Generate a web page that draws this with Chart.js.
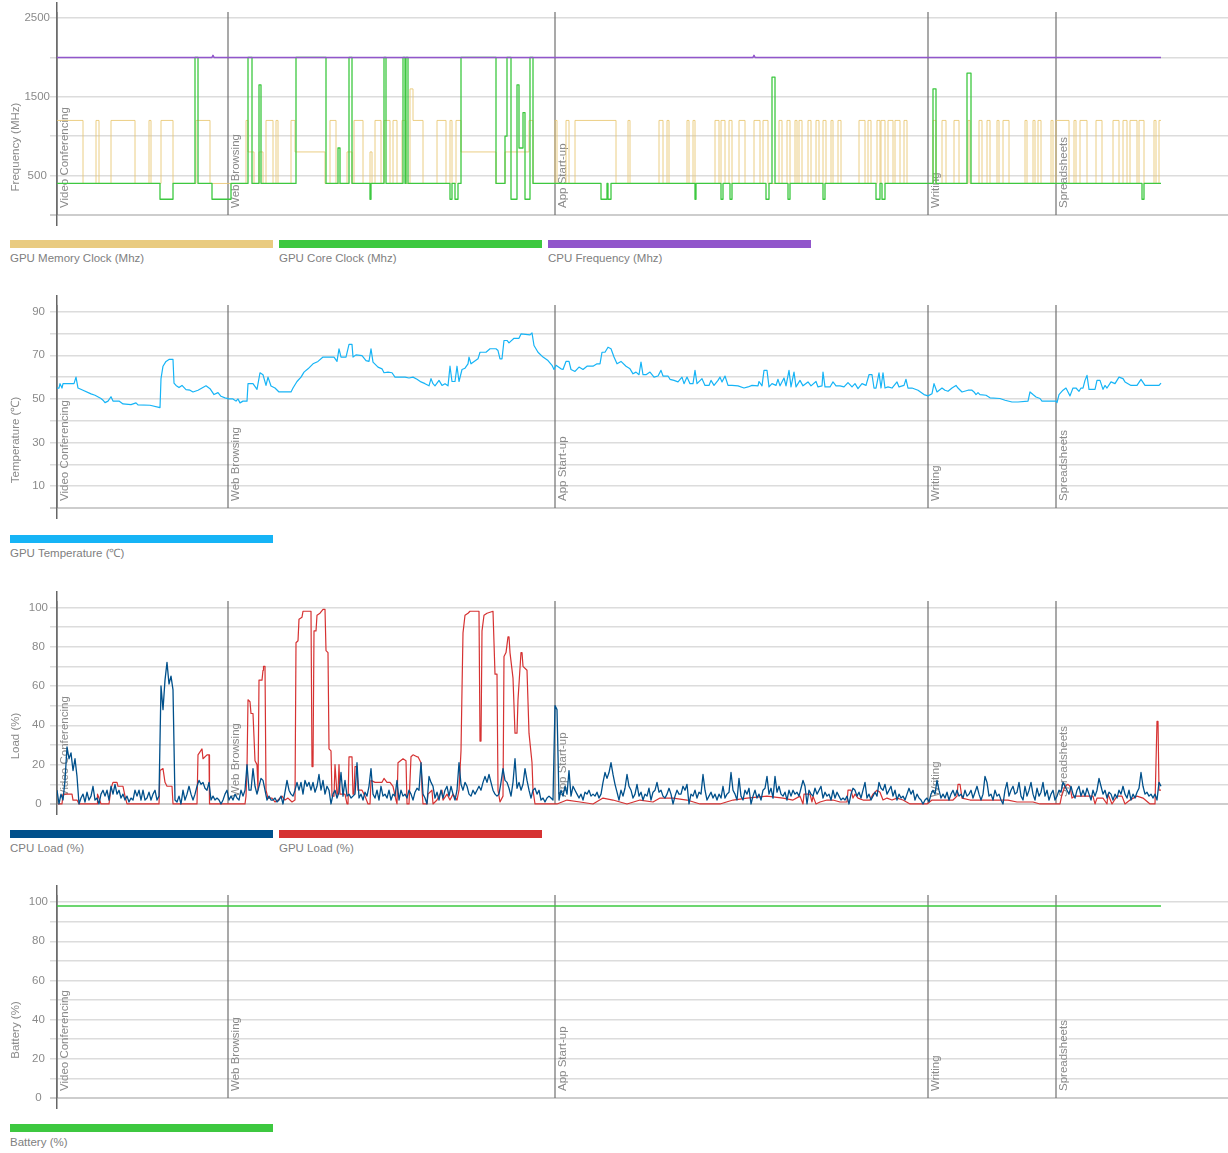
<!DOCTYPE html>
<html>
<head>
<meta charset="utf-8">
<script src="https://cdn.jsdelivr.net/npm/chart.js@4.4.0/dist/chart.umd.min.js"></script>
<style>
body { margin: 0; background: #fff; font-family: "Liberation Sans", Arial, sans-serif; }
#page { position: relative; width: 1228px; height: 1153px; overflow: hidden; }
canvas { position: absolute; left: 0; }
.legend { position: absolute; left: 10px; display: flex; }
.item { width: 263px; margin-right: 6px; }
.bar { height: 8px; }
.label { font-size: 11.5px; color: #808080; margin-top: 3px; line-height: 14px; white-space: nowrap; }
</style>
</head>
<body>
<div id="page">
  <canvas id="freq" width="1228" height="227" style="top:0px"></canvas>
  <canvas id="temp" width="1228" height="227" style="top:293px"></canvas>
  <canvas id="load" width="1228" height="227" style="top:589px"></canvas>
  <canvas id="batt" width="1228" height="227" style="top:883px"></canvas>
</div>
<script>
const FONT = '"Liberation Sans", Arial, sans-serif'

// test phases (x = seconds from start)
const eventTimes = [0, 171, 498, 871, 999]
const eventNames = ['Video Conferencing', 'Web Browsing', 'App Start-up', 'Writing', 'Spreadsheets']
const xMax = 1171

// y ticks of each chart
const freqTicks = [0, 500, 1000, 1500, 2000, 2500]
const tempTicks = [0, 10, 20, 30, 40, 50, 60, 70, 80, 90]
const pctTicks = [0, 10, 20, 30, 40, 50, 60, 70, 80, 90, 100]

// frequency chart: change points [t, MHz]
const gpuMemClock = [
  [0,1200],[26,400],[39,1200],[42,400],[54,1200],[78,400],[92,1200],[94,400],[104,1200],[116,400],
  [139,1200],[153,400],[189,1200],[191,800],[197,400],[202,800],[206,400],[209,1200],[216,400],[219,1200],
  [221,400],[234,1200],[238,800],[268,400],[273,1200],[279,400],[290,800],[295,400],[297,1200],[306,400],
  [313,800],[315,400],[318,1200],[324,400],[327,1200],[333,400],[336,1200],[340,400],[345,1200],[349,400],
  [353,1600],[356,1200],[366,400],[380,1200],[389,400],[393,1200],[395,400],[399,1200],[404,800],[439,400],
  [448,800],[472,1200],[476,400],[498,1200],[500,400],[509,1200],[512,400],[518,1200],[559,400],[571,1200],
  [573,400],[602,1200],[606,400],[610,1200],[612,400],[630,1200],[632,400],[636,1200],[638,400],[658,1200],
  [662,400],[664,1200],[668,400],[672,1200],[675,400],[682,1200],[688,400],[697,1200],[703,400],[706,1200],
  [711,400],[722,1200],[725,400],[730,1200],[733,400],[738,1200],[740,400],[742,1200],[745,400],[751,1200],
  [754,400],[759,1200],[762,400],[766,1200],[769,400],[774,1200],[776,400],[781,1200],[784,400],[802,1200],
  [808,400],[811,1200],[814,400],[820,1200],[823,400],[824,1200],[828,400],[831,1200],[836,400],[838,1200],
  [843,400],[847,1200],[850,400],[876,1200],[879,400],[885,1200],[889,400],[897,1200],[902,400],[911,1200],
  [913,400],[922,1200],[925,400],[930,1200],[933,400],[940,1200],[942,400],[946,1200],[952,400],[968,1200],
  [970,400],[976,1200],[978,400],[981,1200],[984,400],[994,1200],[996,400],[999,1200],[1012,400],[1017,1200],
  [1019,400],[1023,1200],[1030,400],[1039,1200],[1045,400],[1056,1200],[1062,400],[1066,1200],[1070,400],[1073,1200],
  [1080,400],[1082,1200],[1087,400],[1097,1200],[1099,400],[1102,1200],[1104,1200]
]
const gpuCoreClock = [
  [0,400],[103,200],[116,400],[138,2000],[141,400],[155,200],[174,400],[191,2000],[195,400],[202,1650],
  [204,400],[239,2000],[269,400],[281,850],[283,400],[292,2000],[295,400],[313,200],[314,400],[327,2000],
  [329,400],[346,2000],[348,400],[349,2000],[351,400],[393,200],[395,400],[398,200],[401,400],[404,2000],
  [439,400],[448,1000],[450,2000],[454,200],[460,1650],[462,850],[466,1300],[468,200],[473,2000],[476,400],
  [544,200],[550,400],[551,200],[554,400],[638,200],[639,400],[664,200],[666,400],[673,200],[675,400],
  [709,200],[712,400],[715,1750],[718,400],[731,200],[733,400],[766,200],[768,400],[819,200],[823,400],
  [825,200],[828,400],[876,1600],[879,400],[910,1800],[914,400],[1085,200],[1087,400],[1104,400]
]
const cpuFrequency = [[0,2000],[155,2000],[156,2025],[157,2000],[696,2000],[697,2025],[698,2000],[1104,2000]]

// temperature chart [t, °C]
const gpuTemp = [
  [0,55],[2,55],[3,57],[5,55],[6,57],[17,57],[19,60],[21,55],[26,54],[34,52.3],[38,51.7],[44,50.2],[46,49.4],
  [48,48.3],[51,49],[54,51],[56,49],[62,49],[66,47.7],[74,47.4],[79,48.2],[81,47.3],[93,47.1],[103,46],
  [104,59.3],[106,65],[109,67.2],[112,68.1],[116,68.1],[117,57.3],[119,56.2],[122,55.2],[125,56.2],[129,54.3],
  [133,54],[136,53.2],[141,54],[145,55],[149,56],[153,54.7],[157,52],[161,52.9],[164,51.2],[168,50.5],[172,50],
  [176,50],[179,49],[181,50],[183,48.2],[186,49],[190,49],[191,57],[196,57],[200,54.4],[203,62],[206,61.1],
  [209,56.2],[211,60],[214,55.9],[218,55],[222,53.2],[234,53.2],[236,55],[240,58],[244,60],[247,62.3],
  [251,63.8],[256,66.1],[261,67.2],[266,69.2],[277,69.2],[280,67.2],[282,73],[284,69.2],[289,69.2],[292,75],
  [295,75],[296,69.2],[299,70.2],[305,69.9],[309,67.6],[312,67.2],[314,73],[316,66.9],[321,64.6],[325,63.8],
  [327,62],[331,62.3],[335,62],[338,60],[348,60],[352,59.6],[356,60],[360,59],[364,57.8],[368,57],[372,56],
  [374,59.3],[376,57],[378,56],[382,58.5],[385,56.2],[388,57],[391,56],[393,65],[395,58],[398,58],[400,65],
  [402,58],[405,63.5],[408,64.1],[411,66.1],[412,69.2],[414,66.1],[421,68.4],[423,71.4],[429,71.4],[433,73],
  [439,73],[441,72.2],[443,68.4],[445,68.4],[447,76.8],[450,76.8],[452,75.7],[457,77.8],[462,77.8],[464,79.8],
  [473,79.4],[475,80.3],[477,74.5],[481,71.4],[486,69.2],[491,67.6],[495,65.4],[497,63.5],[499,65.4],[504,63.8],
  [506,63.5],[509,67.2],[512,67.2],[514,63.5],[518,62.6],[522,64.6],[526,63.5],[530,65],[536,65],[540,66.1],
  [543,66.1],[545,71.4],[548,71.4],[551,73.7],[554,73],[557,69.2],[560,66.1],[564,67.2],[569,65],[573,63.8],
  [576,61.5],[579,62.3],[582,61.1],[584,66.9],[586,61.1],[589,61.1],[593,62.3],[597,60],[601,60.5],[604,63.1],
  [606,60.5],[611,60.5],[613,59],[617,58.5],[621,57.8],[625,60],[627,57],[630,60],[633,57],[636,57],[638,63.1],
  [640,57],[645,59.3],[648,56.2],[652,56.2],[654,58.5],[657,56.2],[661,58.5],[663,60],[665,57.8],[668,60.5],
  [671,56.2],[675,56.2],[681,56],[687,55],[691,55.5],[695,56.2],[701,56],[702,58],[705,56],[707,63.1],[710,63.1],
  [712,55.5],[715,57],[719,56.2],[721,59],[723,56],[727,59.6],[729,56],[732,63.1],[734,55.5],[737,62.3],
  [739,55.5],[743,58.5],[746,56],[751,57.8],[754,56],[759,58],[761,55.5],[765,56],[766,62.3],[768,55.5],
  [773,55.5],[776,57.8],[779,56],[783,56],[787,55.5],[791,57.5],[795,55.5],[798,57],[801,54.7],[805,57],
  [809,56.2],[812,61.1],[815,61.1],[817,55],[819,55],[822,62],[824,55],[826,62],[828,55],[831,55.5],[835,55],
  [840,57.8],[842,55.5],[847,56.2],[849,59],[851,55],[855,55],[861,54],[867,52],[871,51.4],[875,52.4],[877,57],
  [880,53.2],[885,55],[888,54],[891,53.5],[895,55],[899,56.2],[901,55],[905,53.2],[911,54],[915,54],[917,53.2],
  [919,52],[921,52.9],[923,52],[929,51.7],[933,50.5],[943,50.2],[948,49.4],[955,48.6],[961,48.6],[971,49],
  [973,53.2],[976,52],[979,50.9],[983,50.2],[985,49],[991,49],[999,49],[1000,48.3],[1002,52],[1006,54],
  [1009,55],[1011,53.2],[1013,51.4],[1016,55],[1019,55],[1022,53.5],[1024,55],[1026,55],[1028,58.5],[1030,60.8],
  [1032,54.4],[1038,54.4],[1040,58.5],[1043,58.5],[1046,54.4],[1048,56.2],[1050,55],[1054,57.8],[1058,57],
  [1062,60],[1066,59.3],[1068,57.8],[1074,56.2],[1080,56.2],[1084,59],[1088,56.2],[1094,56.2],[1102,56.2],[1104,57.3]
]

// load chart: CPU sampled every 2 s, GPU as [t, %]
const cpuStep = 2
const cpuLoad = [
  7,0,5,2,12,29,23,26,17,23,14,0,
  3,5,1,6,2,4,9,2,3,0,5,7,4,7,2,9,5,10,5,7,3,5,2,4,1,3,2,7,4,7,2,7,2,3,6,2,5,7,2,4,
  60,48,63,72,61,65,58,2,
  1,4,0,7,2,5,9,5,2,5,9,12,10,11,8,7,11,2,4,2,3,2,0,2,5,7,2,4,2,5,3,2,7,4,7,
  20,7,7,18,9,5,9,13,12,7,2,4,2,2,3,1,2,4,0,6,12,7,5,4,7,11,7,11,5,12,9,11,7,11,6,9,15,7,12,5,
  9,7,0,5,7,3,6,16,4,12,4,5,3,4,5,21,3,5,2,6,4,9,18,5,3,7,2,9,4,5,3,7,2,5,4,12,2,7,4,5,3,7,5,2,6,8,7,
  21,5,3,0,14,11,9,3,6,2,7,3,7,9,4,9,5,2,7,21,10,7,11,9,5,4,7,5,7,9,7,11,14,11,15,11,7,5,4,5,
  11,18,12,11,8,4,11,23,8,11,7,10,18,12,7,3,7,8,5,7,2,3,1,3,4,3,2,50,48,2,
  7,4,9,5,17,4,9,7,5,3,5,2,6,5,7,4,5,4,6,3,5,11,16,13,16,21,15,10,6,2,7,4,8,15,9,7,3,5,10,4,
  6,2,5,4,8,2,6,7,11,6,7,4,3,5,8,5,0,4,7,5,5,9,7,10,0,5,4,7,3,6,5,15,7,2,4,6,3,5,2,5,
  3,9,3,5,6,16,7,5,2,13,4,2,7,5,8,0,4,7,3,5,2,7,8,14,5,8,3,14,6,9,5,4,6,2,7,4,7,5,6,4,8,12,9,0,7,5,4,8,5,7,9,
  3,6,4,5,2,7,3,6,4,2,3,2,4,0,5,8,7,4,6,3,7,11,3,5,2,4,6,4,11,8,7,10,5,7,9,4,7,2,5,3,
  4,2,5,8,5,7,2,5,3,2,0,2,3,1,5,7,5,12,7,3,5,3,6,2,5,7,4,7,4,5,3,7,4,5,7,3,6,9,5,2,
  5,14,11,4,5,2,7,4,5,2,0,7,11,4,7,9,5,6,11,4,2,9,4,7,11,5,2,8,4,6,11,4,7,2,5,7,2,4,7,6,
  11,9,7,5,9,5,3,7,9,4,7,4,8,5,2,7,4,7,13,9,5,7,3,6,5,2,5,3,7,5,9,5,3,7,2,5,3,6,8,16,
  9,5,6,4,5,3,5,2,11,9
]
const gpuLoad = [
  [1,0],[5,0],[6,5],[15,5],[16,2],[20,2],[22,0],[40,0],[40.5,5],[42,3],[44,0],[52,0],[54,8],[56,11],[60,11],
  [61,9],[66,9],[68,4],[70,0],[102,0],[103,17],[106,18],[108,11],[110,9],[115,9],[116,0],[140,0],[141,25],
  [145,28],[146,23],[150,25],[152,25],[152.5,0],[188,0],[189,4],[190,18],[191,53],[193,52],[194,46],[196,46],
  [198,22],[200,20],[201,7],[202,63],[205,63],[206,68],[206.5,70],[208,70],[209,7],[211,3],[215,3],[218,1],
  [221,2],[225,4],[228,2],[231,3],[235,1],[238,2],[239,82],[241,83],[242,94],[245,95],[246,98],[254,98],
  [255,19],[256,19],[257,88],[259,88],[260,96],[263,97],[266,99],[268,99],[269,78],[271,77],[272,28],[274,27],
  [275,4],[277,4],[278,20],[280,5],[281,5],[282,20],[283,5],[288,5],[290,0],[291,0],[292,24],[295,24],[296,5],
  [297,5],[298,19],[300,19],[301,7],[305,7],[308,4],[311,0],[313,0],[314,12],[318,11],[321,11],[325,11],
  [327,13],[330,11],[333,11],[336,9],[339,2],[340,0],[341,21],[346,23],[349,22],[350,0],[352,0],[354,24],
  [356,25],[360,24],[361,24],[364,21],[365,7],[366,0],[370,0],[371,5],[375,7],[376,0],[380,2],[385,7],[386,2],
  [390,5],[393,2],[396,5],[400,2],[402,7],[404,27],[405,58],[406,87],[408,96],[411,97],[413,98],[422,98],
  [423,32],[424,32],[425,88],[427,96],[430,97],[436,98],[438,66],[440,66],[441,7],[443,1],[446,4],[447,75],
  [449,77],[451,85],[452,85],[453,77],[456,64],[458,36],[460,36],[461,53],[464,77],[465,77],[466,70],[470,68],
  [472,36],[475,21],[476,7],[478,0],[500,0],[510,2],[523,1],[536,0],[546,3],[556,2],[563,1],[570,0],[583,2],
  [596,1],[603,3],[616,3],[630,2],[643,0],[663,0],[676,2],[690,3],[710,4],[726,3],[736,2],[743,4],[746,0],
  [747,5],[753,5],[755,1],[756,4],[759,0],[763,1],[770,2],[776,2],[783,1],[790,1],[791,7],[794,7],[796,3],
  [798,5],[801,3],[806,2],[813,2],[816,5],[820,7],[823,6],[826,2],[830,3],[835,2],[840,3],[846,2],[853,0],
  [870,0],[875,2],[883,2],[890,2],[896,2],[900,4],[901,10],[903,10],[905,3],[913,2],[930,2],[943,2],[951,2],
  [960,1],[976,1],[983,0],[1003,0],[1005,5],[1008,9],[1011,10],[1013,9],[1015,3],[1018,4],[1036,4],[1038,0],
  [1040,3],[1046,3],[1050,0],[1051,5],[1055,0],[1060,4],[1065,4],[1068,0],[1073,2],[1080,4],[1086,3],[1093,0],
  [1098,0],[1100,42],[1101,42],[1102,7],[1104,7]
]

// battery [t, %]
const battery = [[0,98],[1104,98]]

const colors = {
  mem: '#e9cb80', core: '#3dc840', cpuFreq: '#9156cb', temp: '#16b4f6',
  cpuLoad: '#00508b', gpuLoad: '#d63232', battery: '#3dc840'
}

const pairs = arr => arr.map(p => ({ x: p[0], y: p[1] }))

const eventPlugin = {
  id: 'events',
  beforeDatasetsDraw(chart) {
    const { ctx, chartArea, scales: { x, y } } = chart
    const y0 = y.getPixelForValue(0)
    ctx.save()
    eventTimes.forEach((t, i) => {
      const px = x.getPixelForValue(t)
      ctx.strokeStyle = '#707070'
      ctx.lineWidth = 1.2
      ctx.beginPath()
      ctx.moveTo(px, chartArea.top + 9)
      ctx.lineTo(px, y0)
      ctx.stroke()
      ctx.save()
      ctx.translate(px + 10.5, y0 - 7)
      ctx.rotate(-Math.PI / 2)
      ctx.font = '11.5px ' + FONT
      ctx.fillStyle = '#8a8a8a'
      ctx.textAlign = 'left'
      ctx.textBaseline = 'alphabetic'
      ctx.fillText(eventNames[i], 0, 0)
      ctx.restore()
    })
    ctx.restore()
  },
  afterDraw(chart) {
    const { ctx, chartArea } = chart
    const title = chart.options.plugins.events.title
    ctx.save()
    ctx.translate(16, (chartArea.top + chartArea.bottom) / 2 + 33)
    ctx.rotate(-Math.PI / 2)
    ctx.font = '11.5px ' + FONT
    ctx.fillStyle = '#8a8a8a'
    ctx.textAlign = 'center'
    ctx.textBaseline = 'middle'
    ctx.fillText(title, 0, 0)
    ctx.restore()
  }
}

function yAxis(min, max, tickValues, show, pad) {
  return {
    min, max,
    afterBuildTicks(scale) { scale.ticks = tickValues.map(v => ({ value: v })) },
    ticks: {
      autoSkip: false, crossAlign: 'center', padding: pad, color: '#8a8a8a',
      font: { size: 11.5, family: FONT },
      callback: v => show(v) ? String(v) : ''
    },
    grid: {
      color: c => c.tick && c.tick.value === 0 ? '#cdcdcd' : '#dcdcdc',
      lineWidth: c => c.tick && c.tick.value === 0 ? 2 : 1.5,
      tickLength: 7
    },
    border: { display: true, color: '#666', width: 1.5 },
    afterFit(scale) { scale.width = 57; scale.paddingTop = 0; scale.paddingBottom = 0 }
  }
}

function line(data, color, width, extra) {
  return Object.assign({
    data, borderColor: color, borderWidth: width, pointRadius: 0,
    fill: false, tension: 0, borderJoinStyle: 'round'
  }, extra || {})
}

function makeChart(id, title, datasets, y) {
  return new Chart(document.getElementById(id), {
    type: 'line',
    data: { datasets },
    options: {
      responsive: false,
      animation: false,
      events: [],
      layout: { padding: { top: 3, bottom: 2, left: 0, right: 0 } },
      scales: {
        x: { type: 'linear', min: 0, max: xMax, display: false },
        y
      },
      plugins: { legend: { display: false }, tooltip: { enabled: false }, events: { title } }
    },
    plugins: [eventPlugin]
  })
}

makeChart('freq', 'Frequency (MHz)', [
  line(pairs(gpuMemClock), 'rgba(232,198,112,0.85)', 1, { stepped: 'before', order: 3 }),
  line(pairs(gpuCoreClock), colors.core, 1.3, { stepped: 'before', order: 2 }),
  line(pairs(cpuFrequency), colors.cpuFreq, 1.5, { order: 1 })
], yAxis(-127, 2690, freqTicks, v => v % 1000 === 500, 0))

makeChart('temp', 'Temperature (\u2103)', [
  line(pairs(gpuTemp), colors.temp, 1.2)
], yAxis(-4.6, 97.2, tempTicks, v => v % 20 === 10, 5))

makeChart('load', 'Load (%)', [
  line(cpuLoad.map((v, i) => ({ x: i * cpuStep, y: v })), colors.cpuLoad, 1.3),
  line(pairs(gpuLoad), colors.gpuLoad, 1.2)
], yAxis(-5.1, 107.8, pctTicks, v => v % 20 === 0, 2))

makeChart('batt', 'Battery (%)', [
  line(pairs(battery), colors.battery, 1.3)
], yAxis(-5.1, 108.2, pctTicks, v => v % 20 === 0, 2))

// legends under each chart
const legendTops = [240, 535, 830, 1124]
const legendItems = [
  [['GPU Memory Clock (Mhz)', colors.mem], ['GPU Core Clock (Mhz)', colors.core], ['CPU Frequency (Mhz)', colors.cpuFreq]],
  [['GPU Temperature (\u2103)', colors.temp]],
  [['CPU Load (%)', colors.cpuLoad], ['GPU Load (%)', colors.gpuLoad]],
  [['Battery (%)', colors.battery]]
]
const page = document.getElementById('page')
legendItems.forEach((items, k) => {
  const box = document.createElement('div')
  box.className = 'legend'
  box.style.top = legendTops[k] + 'px'
  items.forEach(([name, color]) => {
    const item = document.createElement('div')
    item.className = 'item'
    item.innerHTML = '<div class="bar" style="background:' + color + '"></div><div class="label"></div>'
    item.querySelector('.label').textContent = name
    box.appendChild(item)
  })
  page.appendChild(box)
})
</script>
</body>
</html>
